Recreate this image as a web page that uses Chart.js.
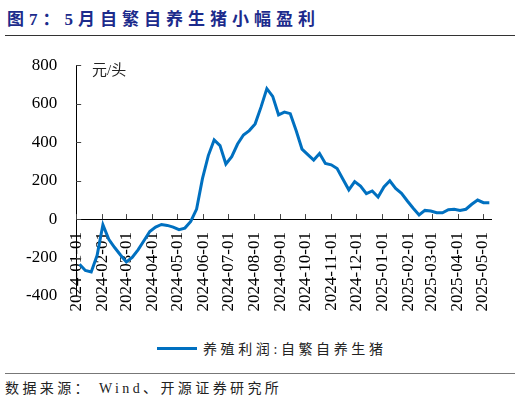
<!DOCTYPE html>
<html>
<head>
<meta charset="utf-8">
<script src="https://cdn.jsdelivr.net/npm/chart.js"></script>
<style>
  html, body { margin: 0; padding: 0; background: #fff; }
  body { width: 520px; height: 400px; position: relative; overflow: hidden;
         font-family: 'Liberation Serif', 'Noto Sans CJK SC', serif; }
  .title { position: absolute; left: 7px; top: 5px; font-size: 17px; font-weight: bold;
           color: #1c2b8c; letter-spacing: 5px; white-space: nowrap; }
  .rule-top { position: absolute; left: 5px; right: 5px; top: 35px; height: 0; border-top: 1.5px solid #333; }
  .unit { position: absolute; left: 92px; top: 58px; font-size: 15px; color: #222; }
  .chart-box { position: absolute; left: 0; top: 36px; width: 520px; height: 290px; }
  .legend { position: absolute; left: 157px; top: 338px; height: 22px; white-space: nowrap; }
  .legend .swatch { position: absolute; left: 0; top: 9px; width: 40px; height: 3px; background: #0070c0; }
  .legend .txt { position: absolute; left: 46px; top: 0; font-size: 14px; letter-spacing: 3.6px; color: #222; }
  .rule-bottom { position: absolute; left: 5px; right: 5px; top: 373px; height: 0; border-top: 1px solid #777; }
  .source { position: absolute; left: 5px; top: 377px; font-size: 14px; letter-spacing: 3.4px; color: #222; white-space: nowrap; }
</style>
</head>
<body>
<div class="title">图7：5月自繁自养生猪小幅盈利</div>
<div class="rule-top"></div>
<div class="chart-box"><canvas id="profitChart"></canvas></div>
<div class="unit">元/头</div>
<div class="legend"><span class="swatch"></span><span class="txt">养殖利润:自繁自养生猪</span></div>
<div class="rule-bottom"></div>
<div class="source">数据来源： Wind、开源证券研究所</div>

<script>
// Weekly observation dates
const weekDates = [
  '2024-01-05', '2024-01-12', '2024-01-19', '2024-01-26',
  '2024-02-02', '2024-02-09', '2024-02-16', '2024-02-23',
  '2024-03-01', '2024-03-08', '2024-03-15', '2024-03-22', '2024-03-29',
  '2024-04-05', '2024-04-12', '2024-04-19', '2024-04-26',
  '2024-05-03', '2024-05-10', '2024-05-17', '2024-05-24', '2024-05-31',
  '2024-06-07', '2024-06-14', '2024-06-21', '2024-06-28',
  '2024-07-05', '2024-07-12', '2024-07-19', '2024-07-26',
  '2024-08-02', '2024-08-09', '2024-08-16', '2024-08-23', '2024-08-30',
  '2024-09-06', '2024-09-13', '2024-09-20', '2024-09-27',
  '2024-10-04', '2024-10-11', '2024-10-18', '2024-10-25',
  '2024-11-01', '2024-11-08', '2024-11-15', '2024-11-22', '2024-11-29',
  '2024-12-06', '2024-12-13', '2024-12-20', '2024-12-27',
  '2025-01-03', '2025-01-10', '2025-01-17', '2025-01-24', '2025-01-31',
  '2025-02-07', '2025-02-14', '2025-02-21', '2025-02-28',
  '2025-03-07', '2025-03-14', '2025-03-21', '2025-03-28',
  '2025-04-04', '2025-04-11', '2025-04-18', '2025-04-25',
  '2025-05-02', '2025-05-09'
];

// 养殖利润:自繁自养生猪 (元/头)
const profitValues = [
  -235, -267, -275, -190,
  -30, -105, -148, -187,
  -223, -200, -160, -113, -65,
  -42, -28, -33, -42,
  -55, -47, -12, 52, 210,
  330, 411, 382, 286,
  324, 390, 437, 460,
  495, 582, 678, 638, 542,
  556, 548, 460, 364,
  335, 307, 341, 289,
  282, 263, 207, 152, 195,
  172, 132, 146, 115,
  167, 199, 159, 134, 94,
  56, 21, 45, 42,
  33, 33, 49, 51,
  45, 51, 77, 99,
  85, 85
];

// x-axis tick labels (month starts)
const monthTicks = [
  '2024-01-01', '2024-02-01', '2024-03-01', '2024-04-01', '2024-05-01', '2024-06-01',
  '2024-07-01', '2024-08-01', '2024-09-01', '2024-10-01', '2024-11-01', '2024-12-01',
  '2025-01-01', '2025-02-01', '2025-03-01', '2025-04-01', '2025-05-01'
];

const yTicks = [-400, -200, 0, 200, 400, 600, 800];

const seriesName = '养殖利润:自繁自养生猪';

// days since 2024-01-01
const origin = Date.UTC(2024, 0, 1);
function toDay(s) {
  const p = s.split('-').map(Number);
  return (Date.UTC(p[0], p[1] - 1, p[2]) - origin) / 86400000;
}

const points = weekDates.map((d, i) => ({ x: toDay(d), y: profitValues[i] }));

// draw short tick marks pointing into the plot area
const innerTicks = {
  id: 'innerTicks',
  afterDatasetsDraw(chart) {
    const ctx = chart.ctx;
    const xs = chart.scales.x;
    const ys = chart.scales.y;
    const y0 = ys.getPixelForValue(0);
    const left = chart.chartArea.left;
    ctx.save();
    ctx.strokeStyle = '#444';
    ctx.lineWidth = 1;
    ctx.beginPath();
    monthTicks.forEach(m => {
      const px = Math.round(xs.getPixelForValue(toDay(m))) + 0.5;
      ctx.moveTo(px, y0);
      ctx.lineTo(px, y0 - 5);
    });
    yTicks.forEach(v => {
      const py = Math.round(ys.getPixelForValue(v)) + 0.5;
      ctx.moveTo(left, py);
      ctx.lineTo(left + 5, py);
    });
    ctx.stroke();
    ctx.restore();
  }
};

Chart.defaults.font.family = "'Liberation Serif', 'Times New Roman', serif";
Chart.defaults.color = '#000';

new Chart(document.getElementById('profitChart').getContext('2d'), {
  type: 'line',
  data: {
    datasets: [{
      label: seriesName,
      data: points,
      borderColor: '#0070c0',
      borderWidth: 3,
      pointRadius: 0,
      tension: 0,
      fill: false
    }]
  },
  options: {
    responsive: true,
    maintainAspectRatio: false,
    animation: false,
    layout: { padding: { top: 11, bottom: 30, left: 7, right: 29 } },
    plugins: {
      legend: { display: false },
      tooltip: { enabled: false }
    },
    scales: {
      x: {
        type: 'linear',
        position: { y: 0 },
        min: 0,
        max: 496,
        afterBuildTicks(scale) {
          scale.ticks = monthTicks.map(m => ({ value: toDay(m) }));
        },
        grid: { drawOnChartArea: false, drawTicks: false },
        border: { color: '#000', width: 1 },
        ticks: {
          autoSkip: false,
          minRotation: 90,
          maxRotation: 90,
          padding: 13,
          font: { size: 17 },
          callback: (value, index) => monthTicks[index]
        }
      },
      y: {
        min: -400,
        max: 800,
        afterBuildTicks(scale) {
          scale.ticks = yTicks.map(v => ({ value: v }));
        },
        grid: { drawOnChartArea: false, drawTicks: false },
        border: { color: '#000', width: 1 },
        ticks: {
          padding: 19,
          font: { size: 17 }
        }
      }
    }
  },
  plugins: [innerTicks]
});
</script>
</body>
</html>
